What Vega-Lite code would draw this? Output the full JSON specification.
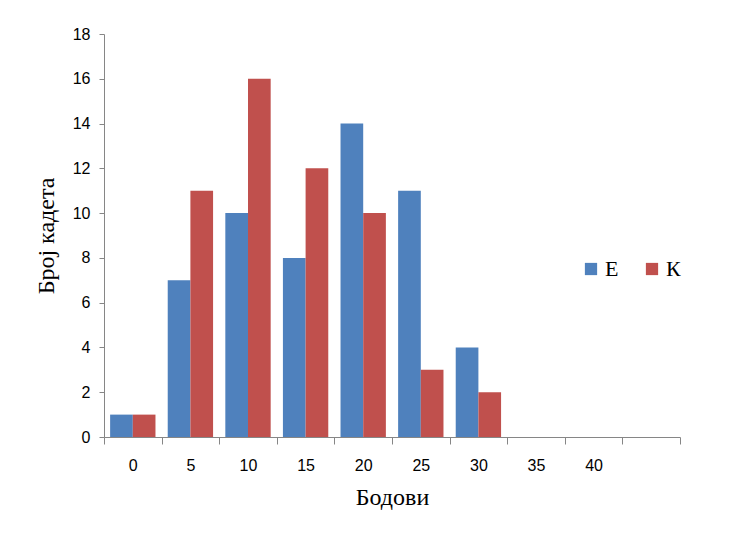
{
  "$schema": "https://vega.github.io/schema/vega-lite/v6.json",
  "width": 576,
  "height": 403,
  "autosize": "none",
  "padding": {"left": 104, "top": 34, "right": 72, "bottom": 98},
  "background": "white",
  "config": {"view": {"stroke": null}},
  "data": {
    "values": [
      {"bod": "0", "grupa": "Е", "broj": 1},
      {"bod": "0", "grupa": "К", "broj": 1},
      {"bod": "5", "grupa": "Е", "broj": 7},
      {"bod": "5", "grupa": "К", "broj": 11},
      {"bod": "10", "grupa": "Е", "broj": 10},
      {"bod": "10", "grupa": "К", "broj": 16},
      {"bod": "15", "grupa": "Е", "broj": 8},
      {"bod": "15", "grupa": "К", "broj": 12},
      {"bod": "20", "grupa": "Е", "broj": 14},
      {"bod": "20", "grupa": "К", "broj": 10},
      {"bod": "25", "grupa": "Е", "broj": 11},
      {"bod": "25", "grupa": "К", "broj": 3},
      {"bod": "30", "grupa": "Е", "broj": 4},
      {"bod": "30", "grupa": "К", "broj": 2},
      {"bod": "35", "grupa": "Е", "broj": 0},
      {"bod": "35", "grupa": "К", "broj": 0},
      {"bod": "40", "grupa": "Е", "broj": 0},
      {"bod": "40", "grupa": "К", "broj": 0}
    ]
  },
  "mark": {"type": "bar"},
  "encoding": {
    "x": {
      "field": "bod",
      "type": "nominal",
      "sort": null,
      "scale": {"domain": ["0","5","10","15","20","25","30","35","40","45"], "paddingInner": 0, "paddingOuter": 0},
      "axis": {
        "title": "Бодови",
        "titleFont": "Liberation Serif",
        "titleFontSize": 24,
        "titleFontWeight": "normal",
        "titleColor": "#000000",
        "titlePadding": 12,
        "labelExpr": "datum.value == '45' ? '' : datum.label",
        "labelAngle": 0,
        "labelFont": "Liberation Sans",
        "labelFontSize": 16,
        "labelColor": "#000000",
        "labelPadding": 13,
        "tickBand": "extent",
        "tickSize": 7,
        "tickColor": "#868686",
        "domainColor": "#868686",
        "grid": false
      }
    },
    "xOffset": {
      "field": "grupa",
      "type": "nominal",
      "scale": {"paddingInner": 0, "paddingOuter": 0.27}
    },
    "y": {
      "field": "broj",
      "type": "quantitative",
      "scale": {"domain": [0, 18], "nice": false},
      "axis": {
        "title": "Број кадета",
        "titleFont": "Liberation Serif",
        "titleFontSize": 24,
        "titleFontWeight": "normal",
        "titleColor": "#000000",
        "titlePadding": 14,
        "values": [0,2,4,6,8,10,12,14,16,18],
        "labelFont": "Liberation Sans",
        "labelFontSize": 16,
        "labelColor": "#000000",
        "labelPadding": 9,
        "tickSize": 5,
        "tickColor": "#868686",
        "domainColor": "#868686",
        "grid": false
      }
    },
    "color": {
      "field": "grupa",
      "type": "nominal",
      "scale": {"domain": ["Е", "К"], "range": ["#4F81BD", "#C0504D"]},
      "legend": {
        "title": null,
        "orient": "none",
        "legendX": 476,
        "legendY": 224,
        "direction": "horizontal",
        "symbolType": "square",
        "symbolSize": 150,
        "symbolStrokeWidth": 0,
        "labelFont": "Liberation Serif",
        "labelFontSize": 22,
        "labelColor": "#000000",
        "labelOffset": 3,
        "columnPadding": 22
      }
    }
  }
}
